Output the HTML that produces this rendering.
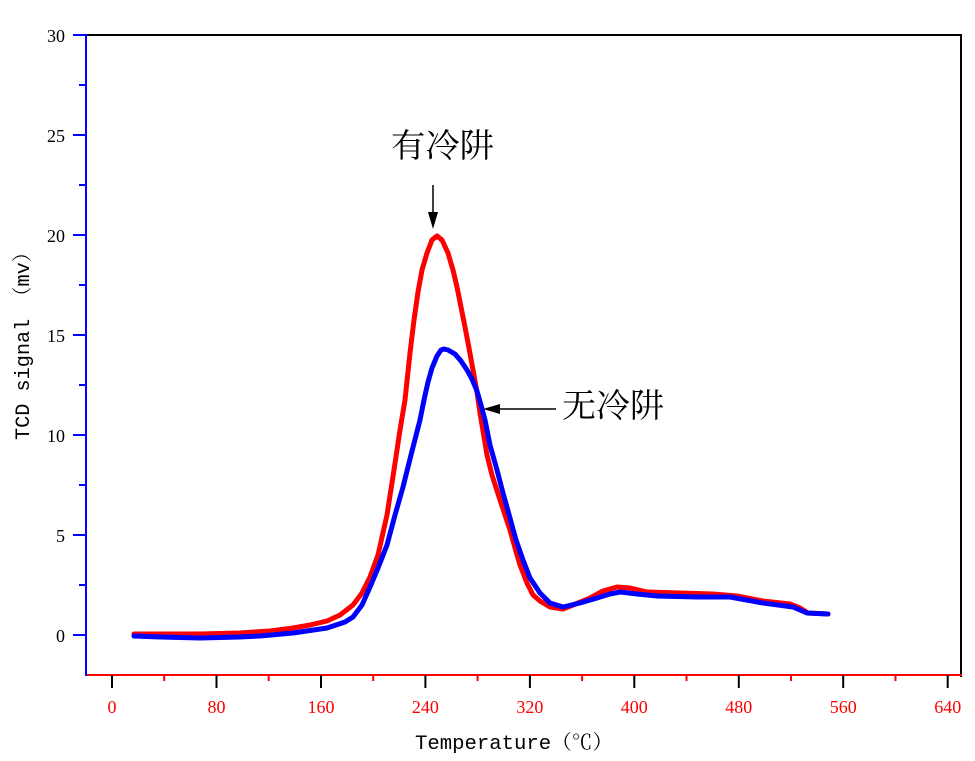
<!DOCTYPE html>
<html><head><meta charset="utf-8"><style>
html,body{margin:0;padding:0;background:#fff;}
svg{display:block;}
</style></head><body>
<svg width="975" height="761" viewBox="0 0 975 761" xmlns="http://www.w3.org/2000/svg">
<rect width="975" height="761" fill="#fff"/>
<!-- frame -->
<line x1="86" y1="35" x2="961" y2="35" stroke="#000" stroke-width="2"/>
<line x1="961" y1="34" x2="961" y2="677" stroke="#000" stroke-width="2"/>
<line x1="86" y1="675" x2="962" y2="675" stroke="#f00" stroke-width="2"/>
<line x1="86" y1="34" x2="86" y2="676" stroke="#00f" stroke-width="2"/>
<!-- y ticks -->
<g stroke="#00f" stroke-width="2">
<line x1="73" y1="35" x2="86" y2="35"/><line x1="73" y1="135" x2="86" y2="135"/><line x1="73" y1="235" x2="86" y2="235"/><line x1="73" y1="335" x2="86" y2="335"/><line x1="73" y1="435" x2="86" y2="435"/><line x1="73" y1="535" x2="86" y2="535"/><line x1="73" y1="635" x2="86" y2="635"/>
<line x1="79" y1="85" x2="86" y2="85"/><line x1="79" y1="185" x2="86" y2="185"/><line x1="79" y1="285" x2="86" y2="285"/><line x1="79" y1="385" x2="86" y2="385"/><line x1="79" y1="485" x2="86" y2="485"/><line x1="79" y1="585" x2="86" y2="585"/>
</g>
<g font-family="Liberation Serif, serif" font-size="18" fill="#000" text-anchor="end">
<text x="65" y="42">30</text><text x="65" y="142">25</text><text x="65" y="242">20</text><text x="65" y="342">15</text><text x="65" y="442">10</text><text x="65" y="542">5</text><text x="65" y="642">0</text>
</g>
<!-- x ticks -->
<g stroke="#000" stroke-width="2">
<line x1="112" y1="675" x2="112" y2="688"/><line x1="216.5" y1="675" x2="216.5" y2="688"/><line x1="321" y1="675" x2="321" y2="688"/><line x1="425.4" y1="675" x2="425.4" y2="688"/><line x1="529.9" y1="675" x2="529.9" y2="688"/><line x1="634.3" y1="675" x2="634.3" y2="688"/><line x1="738.8" y1="675" x2="738.8" y2="688"/><line x1="843.2" y1="675" x2="843.2" y2="688"/><line x1="947.7" y1="675" x2="947.7" y2="688"/>
</g>
<g stroke="#f00" stroke-width="2">
<line x1="164.2" y1="675" x2="164.2" y2="681"/><line x1="268.7" y1="675" x2="268.7" y2="681"/><line x1="373.2" y1="675" x2="373.2" y2="681"/><line x1="477.6" y1="675" x2="477.6" y2="681"/><line x1="582.1" y1="675" x2="582.1" y2="681"/><line x1="686.5" y1="675" x2="686.5" y2="681"/><line x1="791" y1="675" x2="791" y2="681"/><line x1="895.5" y1="675" x2="895.5" y2="681"/>
</g>
<g font-family="Liberation Serif, serif" font-size="18" fill="#f00" text-anchor="middle">
<text x="112" y="713">0</text><text x="216.5" y="713">80</text><text x="321" y="713">160</text><text x="425.4" y="713">240</text><text x="529.9" y="713">320</text><text x="634.3" y="713">400</text><text x="738.8" y="713">480</text><text x="843.2" y="713">560</text><text x="947.7" y="713">640</text>
</g>
<!-- axis titles -->
<text x="415" y="749" font-family="Liberation Mono, 'Noto Serif CJK SC', monospace" font-size="20" fill="#000" textLength="198" lengthAdjust="spacingAndGlyphs">Temperature（℃）</text>
<text transform="translate(29,440) rotate(-90)" x="0" y="0" font-family="Liberation Mono, 'Noto Serif CJK SC', monospace" font-size="20" fill="#000" textLength="198" lengthAdjust="spacingAndGlyphs">TCD signal （mv）</text>
<!-- curves -->
<polyline fill="none" stroke="#f00" stroke-width="5" stroke-linejoin="round" stroke-linecap="round" points="134,634 160,634 200,634 240,633 270,631 293,628 310,625 327,621 340,615 353,605 362,593 370,577 378,555 387,515 394,470 400,430 405,400 410,353 414,320 418,292 422,270 427,253 432,240 437,236 442,240 448,253 453,270 457,287 461,307 465,327 469,348 473,370 477,392 480,413 484,437 487,455 492,475 500,500 510,530 515,548 520,565 527,583 533,595 540,601 550,607 563,609 573,605 590,598 603,591 617,587 630,588 647,592 680,593 713,594 737,596 763,601 790,604 800,608 808,613 828,614"/>
<polyline fill="none" stroke="#00f" stroke-width="5" stroke-linejoin="round" stroke-linecap="round" points="134,636 160,637 200,638 240,637 260,636 293,633 327,628 345,622 353,617 362,605 370,587 378,568 387,545 395,515 403,487 411,455 420,420 424,400 428,382 432,368 437,356 441,350 444,349 448,350 455,354 461,361 467,370 472,379 477,391 481,405 485,420 490,445 497,470 503,493 510,518 516,540 523,560 530,578 540,593 550,603 563,607 580,603 597,598 610,594 620,592 637,594 657,596 697,597 730,597 763,603 793,607 807,613 828,614"/>
<!-- annotations -->
<text x="391" y="157" font-family="'Noto Serif CJK SC', serif" font-size="33" fill="#000" textLength="103" lengthAdjust="spacingAndGlyphs">有冷阱</text>
<line x1="433" y1="185" x2="433" y2="215" stroke="#000" stroke-width="1.5"/>
<polygon points="428,212 438,212 433,229" fill="#000"/>
<text x="562" y="417" font-family="'Noto Serif CJK SC', serif" font-size="33" fill="#000" textLength="102" lengthAdjust="spacingAndGlyphs">无冷阱</text>
<line x1="497" y1="409" x2="556" y2="409" stroke="#000" stroke-width="1.5"/>
<polygon points="500,404 500,414 483,409" fill="#000"/>
</svg>
</body></html>
